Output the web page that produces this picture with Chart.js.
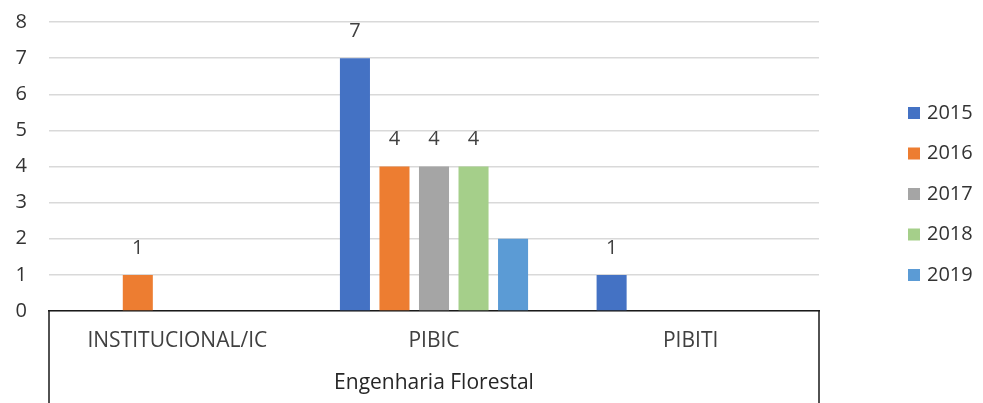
<!DOCTYPE html>
<html lang="pt-BR">
<head>
<meta charset="utf-8">
<title>Engenharia Florestal</title>
<script src="https://cdn.jsdelivr.net/npm/chart.js@4.4.1/dist/chart.umd.min.js"></script>
<style>
  html, body { margin: 0; padding: 0; background: #fff; }
  #wrap { width: 983px; height: 403px; }
</style>
</head>
<body>
<div id="wrap"><canvas id="grafico"></canvas></div>
<script>
// === DADOS ===
const categorias = ['INSTITUCIONAL/IC', 'PIBIC', 'PIBITI'];
const grupo = 'Engenharia Florestal';
const anos = ['2015', '2016', '2017', '2018', '2019'];
const v2015 = [0, 7, 1];
const v2016 = [1, 4, 0];
const v2017 = [0, 4, 0];
const v2018 = [0, 4, 0];
const v2019 = [0, 2, 0];
const yTicks = [0, 1, 2, 3, 4, 5, 6, 7, 8];

const series = [v2015, v2016, v2017, v2018, v2019];
const cores = ['#4472C4', '#ED7D31', '#A5A5A5', '#A5CF8A', '#5B9BD5'];
const comRotulo = [true, true, true, true, false]; // 2019 sem rótulo no original

const fonte = '"Open Sans", "DejaVu Sans", sans-serif';
Chart.defaults.font.family = fonte;
Chart.defaults.font.size = 20;

// rótulos de valor acima das barras
const rotulos = {
  id: 'rotulos',
  afterDatasetsDraw(chart) {
    const ctx = chart.ctx;
    ctx.save();
    ctx.font = '20px ' + fonte;
    ctx.fillStyle = '#404040';
    ctx.textAlign = 'center';
    ctx.textBaseline = 'middle';
    chart.data.datasets.forEach((ds, i) => {
      if (!comRotulo[i]) return;
      chart.getDatasetMeta(i).data.forEach((bar, j) => {
        if (!ds.data[j]) return;
        ctx.fillText(ds.data[j], bar.x, bar.y - 27);
      });
    });
    ctx.restore();
  }
};

// caixa do eixo de vários níveis + legenda à direita
const extras = {
  id: 'extras',
  afterDraw(chart) {
    const { ctx, chartArea: a, height } = chart;
    ctx.save();
    ctx.strokeStyle = '#1a1a1a';
    ctx.lineWidth = 1.5;
    ctx.beginPath();
    ctx.moveTo(a.left, a.bottom); ctx.lineTo(a.left, height);
    ctx.moveTo(a.right, a.bottom); ctx.lineTo(a.right, height);
    ctx.stroke();

    // legenda
    ctx.font = '20px ' + fonte;
    ctx.textAlign = 'left';
    ctx.textBaseline = 'middle';
    chart.data.datasets.forEach((ds, i) => {
      const y = 113 + i * 40.5;
      ctx.fillStyle = ds.backgroundColor;
      ctx.fillRect(908, y - 6, 12, 12);
      ctx.fillStyle = '#333333';
      ctx.fillText(ds.label, 927, y);
    });
    ctx.restore();
  }
};

new Chart(document.getElementById('grafico'), {
  type: 'bar',
  data: {
    labels: categorias,
    datasets: anos.map((ano, i) => ({
      label: ano,
      data: series[i],
      backgroundColor: cores[i],
      borderWidth: 0,
      categoryPercentage: 0.77,
      barPercentage: 0.76
    }))
  },
  options: {
    responsive: true,
    maintainAspectRatio: false,
    animation: false,
    layout: { padding: { top: 22, right: 164, left: 0, bottom: 0 } },
    plugins: {
      legend: { display: false },
      tooltip: { enabled: false }
    },
    scales: {
      x: {
        grid: { display: false, drawTicks: false },
        border: { display: true, color: '#1a1a1a', width: 1.5 },
        ticks: { color: '#404040', padding: 17, autoSkip: false, maxRotation: 0, font: { size: 21 } },
        title: { display: true, text: grupo, color: '#262626', font: { size: 21 }, padding: { top: 0, bottom: 7 } },
        afterFit: s => { s.height = 92; }
      },
      y: {
        min: 0,
        max: 8,
        afterBuildTicks: s => { s.ticks = yTicks.map(v => ({ value: v })); },
        grid: { color: '#d9d9d9', lineWidth: 1.5, drawTicks: false },
        border: { display: false },
        ticks: { color: '#333333', padding: 22 },
        afterFit: s => { s.width = 49; s.paddingTop = 0; s.paddingBottom = 0; }
      }
    }
  },
  plugins: [rotulos, extras]
});
</script>
</body>
</html>
